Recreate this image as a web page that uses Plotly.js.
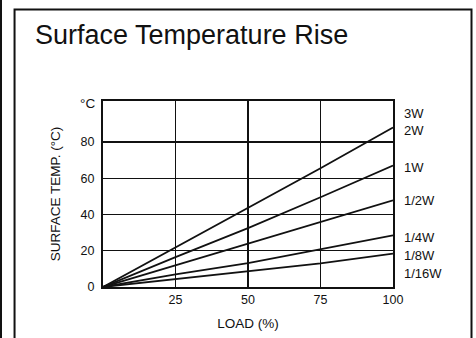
<!DOCTYPE html>
<html>
<head>
<meta charset="utf-8">
<script src="https://cdn.plot.ly/plotly-3.0.1.min.js"></script>
<style>
  html, body { margin: 0; padding: 0; background: #fff; }
  #chart { width: 476px; height: 338px; }
</style>
</head>
<body>
<div id="chart"></div>
<script>
// ---- data ----
const loadPct = [0, 25, 50, 75, 100];
const lineTop = [0, 21.8, 43.5, 65.5, 88];     // 3W / 2W
const line1W = [0, 16.5, 32.5, 49.5, 67];
const lineHalfW = [0, 12, 23.6, 35.9, 47.8];
const lineQuarterW = [0, 7, 13.2, 21, 28.5];
const lineEighthW = [0, 4.4, 8.5, 13, 18.4];   // 1/8W / 1/16W

const seriesList = [lineTop, line1W, lineHalfW, lineQuarterW, lineEighthW];
const seriesNames = ["2W", "1W", "1/2W", "1/4W", "1/8W"];

const labelTexts = ["3W", "2W", "1W", "1/2W", "1/4W", "1/8W", "1/16W"];
const labelLine = [0, 0, 1, 2, 3, 4, 4];        // which line each label sits by
const labelShift = [14, -3, -2, 0, -2, -2, -20]; // pixel offsets (style)

const xTicks = [25, 50, 75, 100];
const yTicks = [0, 20, 40, 60, 80];

const ink = "#111";
const font = "Liberation Sans, Arial, Helvetica, sans-serif";

const traces = seriesList.map((vals, i) => ({
  x: loadPct, y: vals, type: "scatter", mode: "lines",
  name: seriesNames[i],
  line: { color: ink, width: 1.8 },
  showlegend: false, hoverinfo: "skip"
}));

const annotations = labelTexts.map((t, i) => {
  const vals = seriesList[labelLine[i]];
  return {
    text: t, xref: "paper", yref: "y",
    x: 1.03, y: vals[vals.length - 1],
    xanchor: "left", yanchor: "middle", yshift: labelShift[i],
    showarrow: false, font: { family: font, size: 13, color: ink }
  };
});
annotations.push({
  text: "°C", xref: "paper", yref: "paper", x: -0.052, y: 0.984,
  xanchor: "center", yanchor: "middle", showarrow: false,
  font: { family: font, size: 13.5, color: ink }
});

const layout = {
  width: 476, height: 338,
  margin: { l: 103, r: 83, t: 101, b: 51 },
  paper_bgcolor: "#fff", plot_bgcolor: "#fff",
  font: { family: font, color: ink },
  title: {
    text: "Surface Temperature Rise",
    xref: "container", yref: "container",
    x: 35 / 476, xanchor: "left",
    y: 1 - 35 / 338, yanchor: "middle",
    font: { family: font, size: 27, color: ink }
  },
  xaxis: {
    range: [0, 100], tickvals: xTicks, ticktext: xTicks.map(String),
    showgrid: true, gridcolor: ink, gridwidth: 1.3,
    showline: true, linecolor: ink, linewidth: 2, mirror: true,
    zeroline: false, ticks: "",
    tickfont: { family: font, size: 12.5, color: ink },
    title: { text: "LOAD (%)", font: { family: font, size: 13.5, color: ink }, standoff: 13 }
  },
  yaxis: {
    range: [0, 102.6], tickvals: yTicks, ticktext: yTicks.map(String),
    showgrid: true, gridcolor: ink, gridwidth: 1.3,
    showline: true, linecolor: ink, linewidth: 2, mirror: true,
    zeroline: false, ticks: "",
    ticklabelstandoff: 4,
    tickfont: { family: font, size: 12.5, color: ink },
    title: { text: "SURFACE TEMP. (°C)", font: { family: font, size: 13.5, color: ink }, standoff: 17 }
  },
  shapes: [
    { type: "rect", xref: "paper", yref: "paper",
      x0: -0.305, x1: 1.2707, y0: -0.35, y1: 1.492,
      line: { color: ink, width: 2 } },
    { type: "line", xref: "paper", yref: "paper",
      x0: -0.3517, x1: -0.3517, y0: -0.4, y1: 1.6,
      line: { color: ink, width: 2 } }
  ],
  annotations: annotations
};

Plotly.newPlot("chart", traces, layout, { staticPlot: true, displayModeBar: false });
</script>
</body>
</html>
